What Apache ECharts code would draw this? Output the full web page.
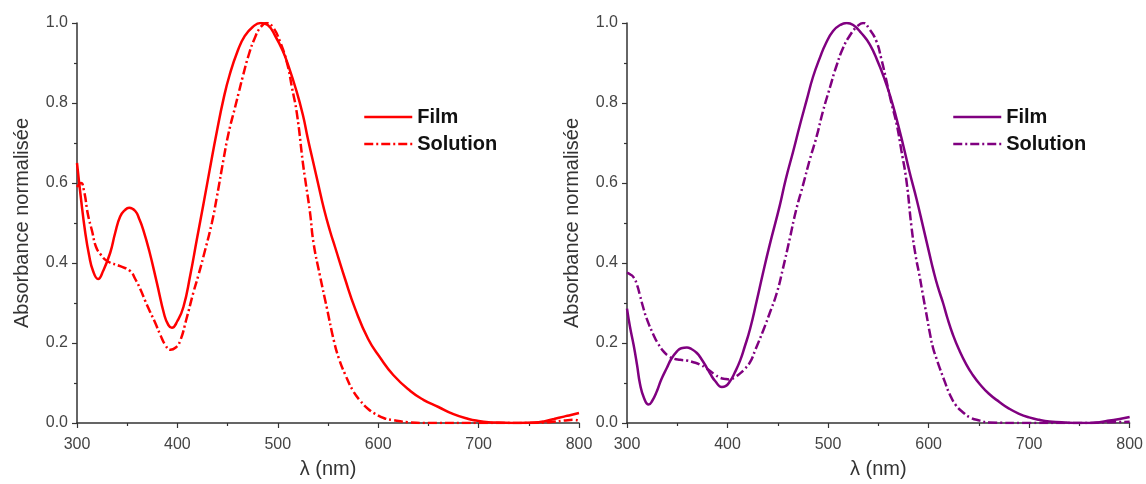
<!DOCTYPE html>
<html>
<head>
<meta charset="utf-8">
<script src="https://cdn.jsdelivr.net/npm/echarts@6/dist/echarts.min.js"></script>
<style>
html,body{margin:0;padding:0;background:#fff;}
#chart{width:1146px;height:484px;}
</style>
</head>
<body>
<div id="chart"></div>
<script>
// ---------- data ----------
var seriesNames = ['Film', 'Solution'];
var xTicks = [300, 400, 500, 600, 700, 800];
var yTicks = [0.0, 0.2, 0.4, 0.6, 0.8, 1.0];
var xTitle = 'λ (nm)';
var yTitle = 'Absorbance normalisée';

var leftFilm = [
  [300,0.65],[304,0.56],[308,0.48],[312,0.42],[316,0.38],[321,0.36],[326,0.38],[333,0.425],
  [338,0.475],[343,0.516],[348,0.533],[352,0.538],[358,0.53],[362,0.51],[366,0.483],[372,0.43],
  [379.5,0.351],[387,0.27],[391,0.245],[394.5,0.238],[400,0.255],[406,0.29],[412.7,0.368],
  [419.3,0.458],[426,0.548],[432.6,0.639],[439.3,0.729],[446,0.811],[452,0.87],
  [460,0.93],[467,0.967],[475,0.99],[483,1.0],[490,0.995],[498,0.965],[505,0.93],[510,0.897],
  [518,0.835],[525,0.77],[530,0.71],[535,0.655],[540,0.6],[546,0.535],[552,0.48],[557,0.44],
  [567,0.36],[577,0.286],[590,0.21],[602,0.163],[615,0.12],[632,0.08],[645,0.058],[660,0.04],
  [675,0.022],[690,0.01],[700,0.005],[710,0.002],[720,0.001],[740,0.0],[755,0.001],[765,0.004],
  [775,0.01],[785,0.016],[792,0.02],[800,0.025]
];
var leftSolution = [
  [300,0.59],[304,0.6],[307,0.58],[311,0.52],[315,0.48],[319,0.44],[324,0.42],[330,0.405],
  [343,0.392],[353,0.38],[358,0.36],[363,0.335],[368,0.305],[373,0.277],[378,0.25],[383,0.22],
  [388,0.195],[393,0.183],[398,0.188],[402.7,0.205],[409,0.26],[416,0.327],[421,0.37],[426,0.417],
  [434.3,0.5],[439.3,0.565],[446,0.66],[451,0.725],[457.5,0.79],[461,0.825],[465,0.865],[471,0.92],
  [477,0.962],[483,0.99],[489,1.0],[495,0.99],[502,0.955],[509.5,0.897],[514,0.84],[519,0.774],
  [525,0.65],[527,0.614],[532,0.528],[535.6,0.45],[542,0.368],[549,0.286],[556,0.204],[561,0.16],
  [567,0.122],[575,0.08],[582,0.056],[590,0.035],[597,0.023],[606,0.012],[615,0.007],[630,0.002],
  [650,0.0],[700,0.0],[750,0.0],[770,0.002],[785,0.006],[795,0.008],[800,0.006]
];
var rightFilm = [
  [300,0.286],[303,0.24],[306.6,0.195],[310,0.145],[313,0.097],[317,0.062],[321.5,0.046],
  [325,0.055],[329.8,0.08],[334,0.108],[339.7,0.138],[344,0.16],[349.7,0.179],[354,0.187],
  [359.6,0.189],[364,0.185],[369.5,0.175],[374,0.16],[379.4,0.138],[383,0.122],[387.7,0.105],
  [394.3,0.09],[398,0.092],[402.6,0.105],[407,0.125],[412.5,0.156],[417,0.19],[422.4,0.235],
  [429,0.305],[435,0.372],[442,0.446],[452,0.544],[458,0.61],[465.4,0.68],[472,0.745],
  [478.7,0.807],[485,0.865],[492,0.914],[498,0.95],[505,0.98],[512,0.995],[518.5,1.0],[525,0.995],
  [533,0.975],[541.6,0.946],[550,0.9],[555,0.868],[561.5,0.82],[568,0.762],[574.7,0.695],[581,0.628],
  [588,0.56],[594.5,0.491],[601,0.421],[604.5,0.384],[609,0.342],[614.4,0.3],[619,0.26],
  [624.3,0.22],[630,0.185],[637.6,0.146],[644,0.12],[651,0.097],[660,0.073],[670.7,0.052],
  [680,0.036],[690,0.023],[700,0.014],[710,0.008],[720,0.004],[737,0.001],[750,0.0],[760,0.0],
  [770,0.002],[780,0.006],[790,0.01],[800,0.015]
];
var rightSolution = [
  [300,0.376],[303,0.372],[306.6,0.364],[310,0.345],[313,0.318],[316,0.29],[319.6,0.261],
  [326.4,0.22],[331,0.198],[336.3,0.179],[341,0.168],[346.3,0.161],[353,0.158],[359.6,0.156],
  [366,0.152],[372.8,0.146],[378,0.138],[382.7,0.13],[388,0.12],[392.6,0.113],[398,0.11],
  [402.6,0.109],[407,0.114],[412.5,0.124],[417,0.135],[422.4,0.152],[428,0.185],[435.6,0.232],
  [442,0.275],[449,0.325],[455,0.385],[462,0.462],[468,0.53],[475,0.594],[482,0.66],[488.7,0.717],
  [495,0.78],[502,0.84],[508,0.89],[515,0.938],[522,0.97],[528.4,0.99],[535,1.0],[541,0.985],
  [548,0.955],[553,0.91],[558,0.856],[563,0.8],[568,0.75],[573,0.68],[578,0.605],[583,0.49],
  [587,0.42],[591,0.368],[594.5,0.318],[598,0.27],[601,0.228],[604.5,0.187],[608,0.16],
  [611,0.138],[616,0.104],[621,0.072],[627,0.045],[634,0.027],[642,0.013],[651,0.006],[660,0.001],
  [700,0.0],[750,0.0],[780,0.002],[800,0.003]
];

var leftColor = '#ff0000';
var rightColor = '#800080';

// ---------- chart ----------
var chart = echarts.init(document.getElementById('chart'), null, {renderer: 'canvas'});
var FONT = '"Liberation Sans", Arial, sans-serif';
var dashDot = [9, 3, 2, 3];

function xAxisCfg(gi) {
  return {
    type: 'value', gridIndex: gi,
    min: xTicks[0], max: xTicks[xTicks.length - 1], interval: xTicks[1] - xTicks[0],
    name: xTitle, nameLocation: 'middle', nameGap: 36,
    nameTextStyle: {fontFamily: FONT, fontSize: 20, color: '#333'},
    axisLine: {show: true, onZero: false, lineStyle: {color: '#333', width: 1.5}},
    axisTick: {show: true, inside: false, length: 5, lineStyle: {color: '#333', width: 1.2}},
    minorTick: {show: true, splitNumber: 2, length: 3, lineStyle: {color: '#333', width: 1.2}},
    axisLabel: {fontFamily: FONT, fontSize: 16, color: '#444', margin: 14},
    splitLine: {show: false}
  };
}
function yAxisCfg(gi) {
  return {
    type: 'value', gridIndex: gi,
    min: yTicks[0], max: yTicks[yTicks.length - 1], interval: yTicks[1] - yTicks[0],
    name: yTitle, nameLocation: 'middle', nameGap: 45, nameRotate: 90,
    nameTextStyle: {fontFamily: FONT, fontSize: 20, color: '#333'},
    axisLine: {show: true, onZero: false, lineStyle: {color: '#333', width: 1.5}},
    axisTick: {show: true, inside: false, length: 5, lineStyle: {color: '#333', width: 1.2}},
    minorTick: {show: true, splitNumber: 2, length: 3, lineStyle: {color: '#333', width: 1.2}},
    axisLabel: {fontFamily: FONT, fontSize: 16, color: '#444', margin: 9,
      formatter: function (v) { return v.toFixed(1); }},
    splitLine: {show: false}
  };
}
function lineSeries(name, data, gi, color, dashed) {
  return {
    type: 'line', name: name, data: data,
    xAxisIndex: gi, yAxisIndex: gi,
    showSymbol: false, symbol: 'none',
    smooth: 0.5,
    lineStyle: {color: color, width: 2.5, type: dashed ? dashDot : 'solid'},
    itemStyle: {color: color},
    animation: false, silent: true
  };
}
function legendCfg(left, color) {
  return {
    show: true,
    left: left, top: 107, orient: 'vertical', padding: 0,
    itemWidth: 48, itemHeight: 14, itemGap: 7,
    selectedMode: false,
    textStyle: {fontFamily: FONT, fontSize: 20, fontWeight: 'bold', color: '#111'},
    data: [
      {name: seriesNames[0], itemStyle: {color: 'rgba(0,0,0,0)', opacity: 0, borderWidth: 0},
       lineStyle: {color: color, width: 2.5, type: 'solid'}},
      {name: seriesNames[1], itemStyle: {color: 'rgba(0,0,0,0)', opacity: 0, borderWidth: 0},
       lineStyle: {color: color, width: 2.5, type: dashDot}}
    ]
  };
}

var option = {
  backgroundColor: '#fff',
  animation: false,
  grid: [
    {left: 77, top: 23, width: 502, height: 406, containLabel: false},
    {left: 627, top: 23, width: 503, height: 406, containLabel: false}
  ],
  xAxis: [xAxisCfg(0), xAxisCfg(1)],
  yAxis: [yAxisCfg(0), yAxisCfg(1)],
  legend: [legendCfg(363, leftColor), legendCfg(952, rightColor)],
  series: [
    lineSeries(seriesNames[0], leftFilm, 0, leftColor, false),
    lineSeries(seriesNames[1], leftSolution, 0, leftColor, true),
    lineSeries(seriesNames[0], rightFilm, 1, rightColor, false),
    lineSeries(seriesNames[1], rightSolution, 1, rightColor, true)
  ]
};
chart.setOption(option);
</script>
</body>
</html>
